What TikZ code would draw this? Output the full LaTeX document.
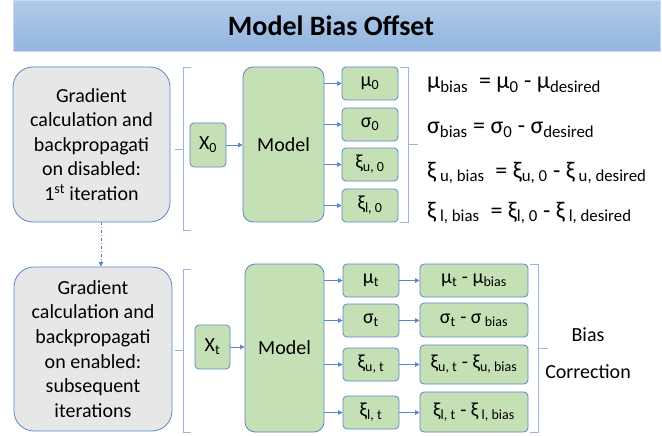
\documentclass[tikz,border=0pt]{standalone}
\usepackage{fontspec}
\setmainfont{Carlito}
\usetikzlibrary{arrows.meta}

\definecolor{boxgreen}{HTML}{C5E0B4}
\definecolor{edgeblue}{HTML}{5B86C9}
\definecolor{stagegray}{HTML}{E7E7E7}
\definecolor{bracecol}{HTML}{9DB5DF}
\definecolor{bartop}{HTML}{B2CAE8}
\definecolor{barbot}{HTML}{92B5E0}
\definecolor{baredge}{HTML}{C9DBF2}

\newcommand{\lo}[1]{\textsubscript{#1}}

\tikzset{
  stagebox/.style={draw=edgeblue, fill=stagegray, line width=0.8pt,
    rounded corners=20pt, align=center, inner sep=0pt,
    font=\fontsize{20}{24.6}\selectfont},
  gbox/.style={draw=edgeblue, fill=boxgreen, line width=0.8pt,
    rounded corners=4pt, inner sep=0pt, font=\fontsize{20}{24}\selectfont},
  modelbox/.style={gbox, rounded corners=10pt},
  flow/.style={draw=edgeblue, line width=0.8pt,
    -{Triangle[length=4.5pt,width=4.5pt]}},
  brk/.style={draw=bracecol, line width=0.8pt},
  eqn/.style={anchor=west, inner sep=0pt, font=\fontsize{24}{28}\selectfont},
  side/.style={inner sep=0pt, font=\fontsize{20}{24}\selectfont}
}

\begin{document}
\begin{tikzpicture}[x=1pt, y=-1pt]
\useasboundingbox (0,0) rectangle (662,436);

% title bar
\shade[top color=bartop, bottom color=barbot, draw=baredge, line width=0.8pt]
  (13,0) rectangle (660,51);
\node[font=\fontsize{28}{32}\selectfont\bfseries] (title) at (331,26) {Model Bias Offset};

% ---------- first iteration ----------
\node[stagebox, minimum width=157pt, minimum height=155pt] (s1) at (91.5,144.5)
  {Gradient\\calculation and\\backpropagati\\on disabled:\\1\textsuperscript{st} iteration};

\draw[brk] (191,67) -- (183,67) -- (183,230) -- (191,230);
\draw[brk] (183,149) -- (175,149);

\node[gbox, minimum width=36pt, minimum height=44pt] (x0) at (208,145) {X\lo{0}};
\node[modelbox, minimum width=81pt, minimum height=155pt] (m1) at (283.5,144.5) {Model};
\draw[flow] (x0.east) -- (x0.east -| m1.west);

\node[gbox, minimum width=56pt, minimum height=33pt] (a1) at (370,83.5) {μ\lo{0}};
\node[gbox, minimum width=56pt, minimum height=33pt] (a2) at (370,124.5) {σ\lo{0}};
\node[gbox, minimum width=56pt, minimum height=33pt] (a3) at (370,164.5) {ξ\lo{u, 0}};
\node[gbox, minimum width=56pt, minimum height=33pt] (a4) at (370,205.5) {ξ\lo{l, 0}};
\foreach \n in {a1,a2,a3,a4}
  \draw[flow] (m1.east |- \n.west) -- (\n.west);

\draw[brk] (400,67) -- (408,67) -- (408,222) -- (400,222);
\draw[brk] (408,144) -- (418,144);

\node[eqn] (e1) at (427,85)  {μ\lo{bias}\ \ = μ\lo{0} - μ\lo{desired}};
\node[eqn] (e2) at (427,130) {σ\lo{bias} = σ\lo{0} - σ\lo{desired}};
\node[eqn] (e3) at (427,173) {ξ\lo{ u, bias}\ \ = ξ\lo{u, 0} - ξ\lo{ u, desired}};
\node[eqn] (e4) at (427,213) {ξ\lo{ l, bias}\ \ = ξ\lo{l, 0} - ξ\lo{ l, desired}};

% ---------- subsequent iterations ----------
\node[stagebox, minimum width=158pt, minimum height=164pt] (s2) at (93,349)
  {Gradient\\calculation and\\backpropagati\\on enabled:\\subsequent\\iterations};

\coordinate (dx) at (101,0);
\draw[draw=edgeblue, line width=0.8pt, dash dot, -{Triangle[length=4.5pt,width=4.5pt]}]
  (s1.south -| dx) -- (s2.north -| dx);

\draw[brk] (191,269) -- (183,269) -- (183,432) -- (191,432);
\draw[brk] (183,350) -- (175,350);

\node[gbox, minimum width=35pt, minimum height=44pt] (xt) at (212.5,347) {X\lo{t}};
\node[modelbox, minimum width=79pt, minimum height=168pt] (m2) at (284.5,348) {Model};
\draw[flow] (xt.east) -- (xt.east -| m2.west);

\node[gbox, minimum width=56pt, minimum height=33pt] (b1) at (371,280.5) {μ\lo{t}};
\node[gbox, minimum width=56pt, minimum height=33pt] (b2) at (371,320.5) {σ\lo{t}};
\node[gbox, minimum width=56pt, minimum height=33pt] (b3) at (371,364.5) {ξ\lo{u, t}};
\node[gbox, minimum width=56pt, minimum height=33pt] (b4) at (371,412.5) {ξ\lo{l, t}};
\foreach \n in {b1,b2,b3,b4}
  \draw[flow] (m2.east |- \n.west) -- (\n.west);

\node[gbox, minimum width=108pt, minimum height=33pt] (c1) at (474,280.5) {μ\lo{t} - μ\lo{bias}};
\node[gbox, minimum width=108pt, minimum height=34pt] (c2) at (474,320) {σ\lo{t} - σ\lo{ bias}};
\node[gbox, minimum width=108pt, minimum height=39pt] (c3) at (474,364.5) {ξ\lo{u, t} - ξ\lo{u, bias}};
\node[gbox, minimum width=108pt, minimum height=40pt] (c4) at (474,412) {ξ\lo{l, t} - ξ\lo{ l, bias}};
\draw[flow] (b1.east) -- (b1.east -| c1.west);
\draw[flow] (b2.east) -- (b2.east -| c2.west);
\draw[flow] (b3.east) -- (b3.east -| c3.west);
\draw[flow] (b4.east) -- (b4.east -| c4.west);

\draw[brk] (530,264) -- (538,264) -- (538,432) -- (530,432);
\draw[brk] (538,348) -- (548,348);

\node[side] (bias) at (588,335) {Bias};
\node[side] (corr) at (588,372) {Correction};
\end{tikzpicture}
\end{document}
